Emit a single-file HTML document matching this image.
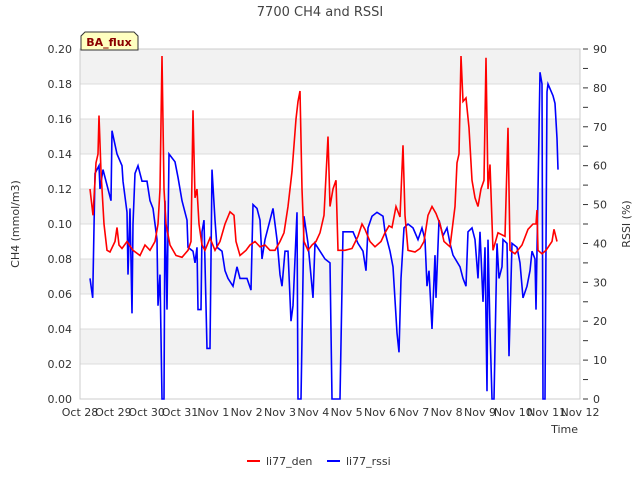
<!DOCTYPE html>
<html><head><meta charset="utf-8"><style>body{margin:0;background:#fff}svg{font-family:"DejaVu Sans","Liberation Sans",sans-serif}</style></head>
<body>
<svg id="c" width="640" height="480" viewBox="0 0 640 480"></svg>
<script>
const xTickLabels=["Oct 28","Oct 29","Oct 30","Oct 31","Nov 1","Nov 2","Nov 3","Nov 4","Nov 5","Nov 6","Nov 7","Nov 8","Nov 9","Nov 10","Nov 11","Nov 12"];
const leftTicks=[0,0.02,0.04,0.06,0.08,0.10,0.12,0.14,0.16,0.18,0.20];
const rightTicks=[0,10,20,30,40,50,60,70,80,90];
const denDays=[0.3,0.39,0.48,0.54,0.57,0.63,0.72,0.81,0.9,1.05,1.11,1.17,1.26,1.41,1.59,1.8,1.95,2.1,2.25,2.34,2.4,2.46,2.52,2.58,2.7,2.88,3.06,3.24,3.33,3.39,3.45,3.51,3.57,3.66,3.75,3.9,4.05,4.2,4.35,4.5,4.62,4.68,4.8,4.98,5.1,5.25,5.4,5.55,5.7,5.85,6.0,6.12,6.24,6.36,6.48,6.54,6.6,6.66,6.72,6.84,6.96,7.08,7.2,7.32,7.44,7.5,7.59,7.68,7.74,7.95,8.16,8.34,8.46,8.55,8.7,8.85,9.03,9.15,9.27,9.36,9.48,9.6,9.69,9.75,9.84,10.05,10.2,10.32,10.44,10.56,10.68,10.8,10.92,11.1,11.25,11.31,11.37,11.43,11.49,11.58,11.67,11.76,11.85,11.94,12.03,12.12,12.18,12.24,12.3,12.39,12.54,12.75,12.84,12.9,13.05,13.26,13.44,13.59,13.68,13.71,13.74,13.86,13.98,14.16,14.22,14.31];
const denVals=[0.12,0.105,0.135,0.14,0.162,0.13,0.10,0.085,0.084,0.09,0.098,0.088,0.086,0.09,0.085,0.082,0.088,0.085,0.09,0.1,0.12,0.196,0.12,0.1,0.088,0.082,0.081,0.085,0.09,0.165,0.115,0.12,0.1,0.088,0.085,0.092,0.085,0.09,0.1,0.107,0.105,0.09,0.082,0.085,0.088,0.09,0.087,0.088,0.085,0.085,0.09,0.095,0.11,0.13,0.16,0.17,0.176,0.12,0.09,0.085,0.088,0.09,0.095,0.105,0.15,0.11,0.12,0.125,0.085,0.085,0.086,0.093,0.1,0.097,0.09,0.087,0.09,0.095,0.099,0.098,0.11,0.104,0.145,0.105,0.085,0.084,0.086,0.09,0.105,0.11,0.106,0.1,0.09,0.087,0.11,0.135,0.14,0.196,0.17,0.172,0.155,0.125,0.115,0.11,0.12,0.125,0.195,0.12,0.134,0.085,0.095,0.093,0.155,0.085,0.083,0.088,0.097,0.1,0.1,0.108,0.085,0.083,0.085,0.09,0.097,0.09];
const rssiDays=[0.3,0.38,0.45,0.57,0.6,0.69,0.84,0.93,0.96,1.11,1.26,1.29,1.41,1.44,1.5,1.56,1.59,1.65,1.74,1.86,2.01,2.1,2.19,2.31,2.34,2.4,2.46,2.52,2.55,2.61,2.67,2.85,2.94,3.06,3.21,3.24,3.39,3.45,3.51,3.54,3.63,3.66,3.72,3.81,3.9,3.96,4.05,4.11,4.26,4.35,4.44,4.59,4.71,4.8,5.01,5.13,5.19,5.31,5.4,5.46,5.55,5.64,5.79,5.91,6.0,6.06,6.15,6.24,6.33,6.39,6.51,6.54,6.63,6.72,6.84,6.99,7.05,7.2,7.35,7.5,7.56,7.71,7.8,7.89,8.04,8.19,8.34,8.49,8.58,8.64,8.76,8.91,9.09,9.15,9.3,9.39,9.51,9.57,9.63,9.72,9.84,9.99,10.14,10.26,10.35,10.41,10.47,10.56,10.65,10.68,10.77,10.89,11.01,11.1,11.19,11.4,11.49,11.58,11.64,11.76,11.85,11.94,12.0,12.09,12.15,12.21,12.24,12.3,12.36,12.42,12.51,12.57,12.66,12.69,12.81,12.87,12.96,13.11,13.2,13.29,13.41,13.5,13.56,13.65,13.68,13.8,13.86,13.89,13.95,14.01,14.04,14.19,14.25,14.31,14.34];
const rssiVals=[31,26,58,60,54,59,54,51,69,63,60,56,48,32,49,22,45,58,60,56,56,51,49,41,24,32,0,0,51,23,63,61,57,51,46,39,38,35,39,23,23,43,46,13,13,59,46,39,38,33,31,29,34,31,31,28,50,49,46,36,41,44,49,41,32,29,38,38,20,24,48,0,0,47,40,26,40,38,36,35,0,0,0,43,43,43,40,38,33,44,47,48,47,43,38,34,17,12,31,44,45,44,41,44,41,29,33,18,37,26,46,42,44,40,37,34,31,29,43,44,41,31,43,25,39,2,41,18,0,0,40,31,34,41,40,11,40,39,35,26,29,33,38,36,23,84,81,0,0,79,81,78,76,67,59];
const L=80,R=580,T=49,B=399;
const xs=d=>L+d*(R-L)/15, yl=v=>B-v*(B-T)/0.2, yr=v=>B-v*(B-T)/90;
const svg=document.getElementById('c'),NS="http://www.w3.org/2000/svg";
function mk(t,a,p){const e=document.createElementNS(NS,t);for(const k in a)e.setAttribute(k,a[k]);(p||svg).appendChild(e);return e;}
for(let i=0;i<10;i++){if(i%2==0){const r=mk('rect',{x:L,y:yl(0.2-i*0.02),width:R-L,height:(B-T)/10,fill:'#f2f2f2'});}}
leftTicks.forEach(v=>{const g=mk('line',{x1:L,x2:R,y1:yl(v),y2:yl(v),stroke:'#dcdcdc'});
const t=mk('text',{x:L-8,y:yl(v)+4,'text-anchor':'end','font-size':11,fill:'#333'});t.textContent=v.toFixed(2);});
rightTicks.forEach(v=>{const t=mk('text',{x:R+13,y:yr(v)+4,'font-size':11,fill:'#333'});t.textContent=v;
mk('line',{x1:R+3,x2:R+8,y1:yr(v),y2:yr(v),stroke:'#333'});if(v<90)mk('line',{x1:R+3,x2:R+8,y1:yr(v+5),y2:yr(v+5),stroke:'#333'});});
xTickLabels.forEach((s,i)=>{const t=mk('text',{x:xs(i),y:B+17,'text-anchor':'middle','font-size':11,fill:'#333'});t.textContent=s;});
mk('rect',{x:L,y:T,width:R-L,height:B-T,fill:'none',stroke:'#ccc'});
function line(days,vals,f,c,n){const p=mk('path',{d:days.map((d,i)=>(i?'L':'M')+xs(d).toFixed(1)+','+f(vals[i]).toFixed(1)).join(''),fill:'none',stroke:c,'stroke-width':1.6});}
line(rssiDays,rssiVals,yr,'#0000ff','rssi-line');
line(denDays,denVals,yl,'#ff0000','den-line');
function txt(s,a,n){const t=mk('text',a);t.textContent=s;return t;}
txt('7700 CH4 and RSSI',{x:320,y:16,'text-anchor':'middle','font-size':13,fill:'#444'},'chart-title');
txt('CH4 (mmol/m3)',{x:0,y:0,transform:'translate(19,224) rotate(-90)','text-anchor':'middle','font-size':11,fill:'#333'},'y-axis-title');
txt('RSSI (%)',{x:0,y:0,transform:'translate(630,224) rotate(-90)','text-anchor':'middle','font-size':11,fill:'#333'},'y2-axis-title');
txt('Time',{x:578,y:433,'text-anchor':'end','font-size':11,fill:'#333'},'x-axis-title');
const bx=mk('path',{d:'M81,50 L81,36 L85,32 L134,32 L138,36 L138,50 Z',fill:'#ffffc0',stroke:'#333'});
txt('BA_flux',{x:109,y:46,'text-anchor':'middle','font-size':11,'font-weight':'bold',fill:'#8b0000'},'site-badge-label');
mk('line',{x1:247,x2:260,y1:461,y2:461,stroke:'#ff0000','stroke-width':2});
txt('li77_den',{x:266,y:465,'font-size':11,fill:'#333'},'legend-den');
mk('line',{x1:327,x2:340,y1:461,y2:461,stroke:'#0000ff','stroke-width':2});
txt('li77_rssi',{x:346,y:465,'font-size':11,fill:'#333'},'legend-rssi');
</script>
</body></html>
